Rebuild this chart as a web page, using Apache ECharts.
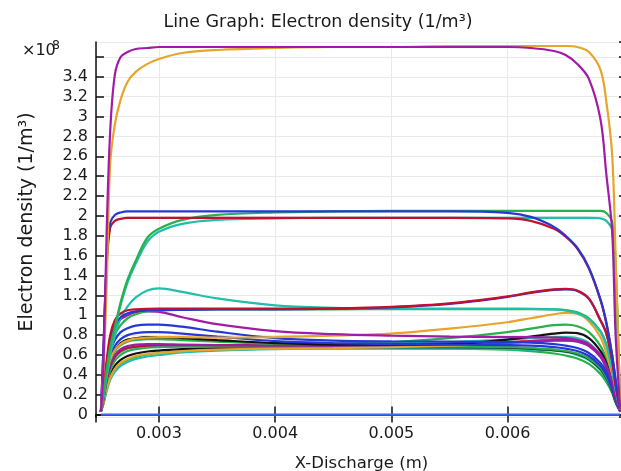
<!DOCTYPE html>
<html>
<head>
<meta charset="utf-8">
<script src="https://cdn.jsdelivr.net/npm/echarts@6/dist/echarts.min.js"></script>
<style>
  html, body { margin: 0; padding: 0; background: #fff; }
  #chart { width: 621px; height: 471px; }
</style>
</head>
<body>
<div id="chart"></div>
<script>
// Sample positions along the discharge gap (m)
const xPos = [0.00250, 0.00252, 0.00255, 0.00258, 0.00262, 0.00267, 0.00273, 0.0028, 0.0029, 0.0030,
              0.0032, 0.0035, 0.0040, 0.0045, 0.0050, 0.0055, 0.0060, 0.0062, 0.0064, 0.0065,
              0.0066, 0.0067, 0.0068, 0.00685, 0.0069, 0.00693, 0.00697];

// Electron density profiles, in units of 1e8 1/m^3
const purpleTop = [0.03, 0.4, 1.85, 2.85, 3.42, 3.6, 3.65, 3.68, 3.69, 3.70, 3.70, 3.70, 3.70, 3.70, 3.70, 3.70, 3.70, 3.69, 3.66, 3.62, 3.53, 3.38, 2.97, 2.42, 1.85, 0.8, 0.05];
const orangeTop = [0.03, 0.4, 1.3, 2.52, 2.92, 3.17, 3.35, 3.45, 3.53, 3.58, 3.64, 3.67, 3.69, 3.70, 3.70, 3.71, 3.71, 3.71, 3.71, 3.71, 3.70, 3.65, 3.47, 3.15, 2.62, 1.6, 0.05];
const blueTop = [0.03, 0.6, 1.55, 1.93, 2.01, 2.035, 2.045, 2.045, 2.045, 2.045, 2.045, 2.045, 2.045, 2.045, 2.045, 2.045, 2.03, 1.99, 1.89, 1.80, 1.68, 1.48, 1.16, 0.93, 0.6, 0.35, 0.04];
const redTop = [0.03, 0.6, 1.5, 1.88, 1.95, 1.97, 1.98, 1.98, 1.98, 1.98, 1.98, 1.98, 1.98, 1.98, 1.98, 1.98, 1.975, 1.95, 1.87, 1.79, 1.67, 1.47, 1.15, 0.92, 0.6, 0.35, 0.04];
const greenTop = [0.03, 0.2, 0.45, 0.68, 0.88, 1.13, 1.36, 1.55, 1.78, 1.87, 1.96, 2.01, 2.035, 2.045, 2.05, 2.05, 2.05, 2.05, 2.05, 2.05, 2.05, 2.05, 2.05, 2.03, 1.94, 1.5, 0.05];
const tealTop = [0.03, 0.2, 0.43, 0.65, 0.86, 1.1, 1.33, 1.52, 1.74, 1.84, 1.92, 1.96, 1.975, 1.98, 1.98, 1.98, 1.98, 1.98, 1.98, 1.98, 1.98, 1.98, 1.975, 1.95, 1.86, 1.2, 0.05];
const tealPeak = [0.03, 0.15, 0.38, 0.6, 0.8, 0.97, 1.09, 1.18, 1.25, 1.27, 1.235, 1.17, 1.10, 1.075, 1.068, 1.066, 1.066, 1.065, 1.06, 1.05, 1.02, 0.96, 0.83, 0.7, 0.45, 0.25, 0.04];
const greenMid = [0.03, 0.2, 0.45, 0.65, 0.8, 0.9, 0.97, 1.01, 1.04, 1.05, 1.055, 1.058, 1.06, 1.06, 1.061, 1.062, 1.062, 1.062, 1.06, 1.052, 1.03, 0.97, 0.84, 0.71, 0.46, 0.26, 0.04];
const redMid = [0.03, 0.25, 0.55, 0.8, 0.95, 1.02, 1.05, 1.06, 1.065, 1.066, 1.066, 1.066, 1.066, 1.07, 1.085, 1.12, 1.19, 1.23, 1.26, 1.265, 1.25, 1.17, 0.95, 0.82, 0.55, 0.3, 0.04];
const blueMid = [0.03, 0.22, 0.5, 0.75, 0.9, 0.98, 1.02, 1.04, 1.048, 1.052, 1.055, 1.058, 1.06, 1.066, 1.08, 1.115, 1.185, 1.225, 1.255, 1.26, 1.245, 1.165, 0.945, 0.815, 0.545, 0.3, 0.04];
const magentaMid = [0.03, 0.22, 0.5, 0.72, 0.87, 0.96, 1.0, 1.03, 1.04, 1.035, 0.98, 0.91, 0.84, 0.81, 0.795, 0.785, 0.78, 0.78, 0.775, 0.77, 0.75, 0.71, 0.6, 0.5, 0.33, 0.18, 0.03];
const orangeMid = [0.03, 0.18, 0.4, 0.55, 0.65, 0.71, 0.745, 0.765, 0.775, 0.78, 0.78, 0.775, 0.78, 0.795, 0.815, 0.865, 0.93, 0.97, 1.01, 1.025, 1.015, 0.94, 0.78, 0.62, 0.4, 0.22, 0.03];
const blueLow1 = [0.03, 0.2, 0.45, 0.63, 0.75, 0.83, 0.87, 0.895, 0.905, 0.905, 0.885, 0.835, 0.77, 0.745, 0.737, 0.735, 0.73, 0.725, 0.71, 0.695, 0.67, 0.62, 0.52, 0.43, 0.28, 0.16, 0.03];
const blueLow2 = [0.03, 0.18, 0.42, 0.58, 0.69, 0.76, 0.8, 0.82, 0.83, 0.83, 0.815, 0.785, 0.74, 0.72, 0.71, 0.705, 0.70, 0.695, 0.68, 0.665, 0.64, 0.59, 0.49, 0.4, 0.26, 0.15, 0.03];
const blackLow1 = [0.03, 0.17, 0.4, 0.55, 0.65, 0.72, 0.755, 0.77, 0.78, 0.78, 0.77, 0.75, 0.72, 0.705, 0.705, 0.71, 0.755, 0.785, 0.815, 0.825, 0.82, 0.77, 0.64, 0.52, 0.34, 0.19, 0.03];
const greenLow1 = [0.03, 0.17, 0.39, 0.54, 0.64, 0.7, 0.735, 0.75, 0.76, 0.76, 0.75, 0.735, 0.715, 0.715, 0.73, 0.77, 0.83, 0.865, 0.9, 0.905, 0.89, 0.83, 0.69, 0.56, 0.37, 0.2, 0.03];
const magentaLow = [0.03, 0.15, 0.36, 0.5, 0.6, 0.66, 0.69, 0.705, 0.71, 0.71, 0.705, 0.7, 0.695, 0.695, 0.70, 0.71, 0.725, 0.735, 0.745, 0.745, 0.735, 0.69, 0.58, 0.47, 0.31, 0.17, 0.03];
const redLow = [0.03, 0.14, 0.34, 0.48, 0.58, 0.64, 0.67, 0.685, 0.695, 0.7, 0.7, 0.7, 0.7, 0.7, 0.705, 0.715, 0.73, 0.74, 0.75, 0.75, 0.74, 0.695, 0.585, 0.47, 0.31, 0.17, 0.03];
const tealLow1 = [0.03, 0.14, 0.33, 0.47, 0.57, 0.63, 0.665, 0.68, 0.69, 0.695, 0.7, 0.7, 0.7, 0.705, 0.715, 0.73, 0.755, 0.77, 0.78, 0.78, 0.77, 0.72, 0.6, 0.49, 0.32, 0.18, 0.03];
const orangeLow = [0.03, 0.11, 0.26, 0.37, 0.46, 0.52, 0.56, 0.59, 0.61, 0.62, 0.64, 0.655, 0.665, 0.67, 0.68, 0.695, 0.72, 0.74, 0.76, 0.765, 0.755, 0.705, 0.59, 0.48, 0.31, 0.17, 0.03];
const greenLow2 = [0.03, 0.13, 0.31, 0.44, 0.54, 0.6, 0.64, 0.66, 0.675, 0.68, 0.685, 0.685, 0.685, 0.685, 0.685, 0.685, 0.68, 0.67, 0.655, 0.64, 0.615, 0.565, 0.47, 0.38, 0.25, 0.14, 0.03];
const blackLow2 = [0.03, 0.12, 0.28, 0.4, 0.49, 0.55, 0.59, 0.615, 0.635, 0.645, 0.66, 0.67, 0.675, 0.678, 0.68, 0.68, 0.675, 0.665, 0.65, 0.635, 0.61, 0.56, 0.46, 0.37, 0.24, 0.13, 0.03];
const tealLow2 = [0.03, 0.1, 0.24, 0.35, 0.43, 0.49, 0.53, 0.56, 0.585, 0.6, 0.625, 0.645, 0.66, 0.665, 0.665, 0.665, 0.66, 0.655, 0.645, 0.63, 0.6, 0.55, 0.45, 0.36, 0.24, 0.13, 0.03];
const greenLow3 = [0.03, 0.1, 0.25, 0.36, 0.45, 0.51, 0.55, 0.58, 0.605, 0.62, 0.64, 0.655, 0.665, 0.668, 0.668, 0.665, 0.655, 0.64, 0.615, 0.595, 0.565, 0.51, 0.41, 0.33, 0.22, 0.12, 0.03];
const zeroLine = [0, 0, 0, 0, 0, 0, 0, 0, 0, 0, 0, 0, 0, 0, 0, 0, 0, 0, 0, 0, 0, 0, 0, 0, 0, 0, 0];

// Tick labels shown on the axes
const yTickLabels = ['0', '0.2', '0.4', '0.6', '0.8', '1', '1.2', '1.4', '1.6', '1.8', '2', '2.2', '2.4', '2.6', '2.8', '3', '3.2', '3.4'];
const xTickLabels = ['0.003', '0.004', '0.005', '0.006'];

const C = {
  blue: '#2538d6', green: '#27b04b', red: '#c3102f', teal: '#20bfa9',
  purple: '#a11ba8', orange: '#e6a52a', black: '#121212', zero: '#3b66ff'
};

const profiles = [
  [zeroLine, C.zero],
  [greenLow3, C.green], [tealLow2, C.teal], [blackLow2, C.black], [greenLow2, C.green],
  [orangeLow, C.orange], [tealLow1, C.teal], [redLow, C.red], [magentaLow, C.purple],
  [greenLow1, C.green], [blackLow1, C.black], [blueLow2, C.blue], [blueLow1, C.blue],
  [orangeMid, C.orange], [magentaMid, C.purple], [greenMid, C.green], [tealPeak, C.teal],
  [blueMid, C.blue], [redMid, C.red],
  [tealTop, C.teal], [greenTop, C.green], [redTop, C.red], [blueTop, C.blue],
  [orangeTop, C.orange], [purpleTop, C.purple]
];

const FONT = 'DejaVu Sans';
const TXT = '#1a1a1a';

const xMin = 0.002458, xMax = 0.007028;
const yMin = -0.024, yMax = 3.7505;

function yLabel(v) {
  const s = String(Math.round(v * 10) / 10);
  return yTickLabels.indexOf(s) >= 0 && Math.abs(v * 10 - Math.round(v * 10)) < 1e-6 ? s : '';
}
function xLabel(v) {
  const s = (Math.round(v * 1000) / 1000).toFixed(3);
  return xTickLabels.indexOf(s) >= 0 && Math.abs(v * 1000 - Math.round(v * 1000)) < 1e-6 ? s : '';
}

const axisLineStyle = { lineStyle: { color: '#111', width: 1.5 } };
const tickStyle = { show: true, inside: true, length: 8, lineStyle: { color: '#111', width: 1.5 } };
const gridLine = { show: true, lineStyle: { color: '#e9e9e9', width: 1 } };

const chart = echarts.init(document.getElementById('chart'), null, { renderer: 'canvas' });
chart.setOption({
  animation: false,
  backgroundColor: '#fff',
  grid: { left: 96, right: -6, top: 42, bottom: 54, outerBoundsMode: 'none', containLabel: false },
  graphic: [
    { type: 'text', x: 318, y: 22, style: { text: 'Line Graph: Electron density (1/m³)', font: '17.5px "' + FONT + '"', fill: TXT, align: 'center', verticalAlign: 'middle' } },
    { type: 'text', x: 22, y: 51, style: { text: '×10', font: '16px "' + FONT + '"', fill: TXT, align: 'left', verticalAlign: 'middle' } },
    { type: 'text', x: 52, y: 46, style: { text: '8', font: '12.5px "' + FONT + '"', fill: TXT, align: 'left', verticalAlign: 'middle' } },
    { type: 'text', x: 27, y: 222, rotation: Math.PI / 2, style: { text: 'Electron density (1/m³)', font: '19px "' + FONT + '"', fill: TXT, align: 'center', verticalAlign: 'middle' } }
  ],
  xAxis: [
    {
      type: 'value', min: xMin, max: xMax, splitNumber: 5, position: 'bottom',
      name: 'X-Discharge (m)', nameLocation: 'middle', nameGap: 38,
      nameTextStyle: { fontFamily: FONT, fontSize: 16.5, color: TXT },
      axisLine: axisLineStyle, axisTick: tickStyle, splitLine: gridLine,
      axisLabel: { formatter: xLabel, fontFamily: FONT, fontSize: 16, color: TXT, margin: 9, showMinLabel: false, showMaxLabel: false }
    },
    {
      type: 'value', min: xMin, max: xMax, splitNumber: 5, position: 'top',
      axisLine: axisLineStyle, axisTick: tickStyle, splitLine: { show: false }, axisLabel: { show: false }
    }
  ],
  yAxis: [
    {
      type: 'value', min: yMin, max: yMax, splitNumber: 19, position: 'left',
      axisLine: axisLineStyle, axisTick: tickStyle, splitLine: gridLine,
      axisLabel: { formatter: yLabel, fontFamily: FONT, fontSize: 16, color: TXT, margin: 8, showMinLabel: false, showMaxLabel: false }
    },
    {
      type: 'value', min: yMin, max: yMax, splitNumber: 19, position: 'right',
      axisLine: axisLineStyle, axisTick: tickStyle, splitLine: { show: false }, axisLabel: { show: false }
    }
  ],
  series: profiles.map(([vals, color]) => ({
    type: 'line',
    data: xPos.map((x, i) => [x, vals[i]]),
    showSymbol: false,
    smooth: 0.35,
    clip: true,
    lineStyle: { color: color, width: 2.2 },
    emphasis: { disabled: true }
  }))
});
</script>
</body>
</html>
